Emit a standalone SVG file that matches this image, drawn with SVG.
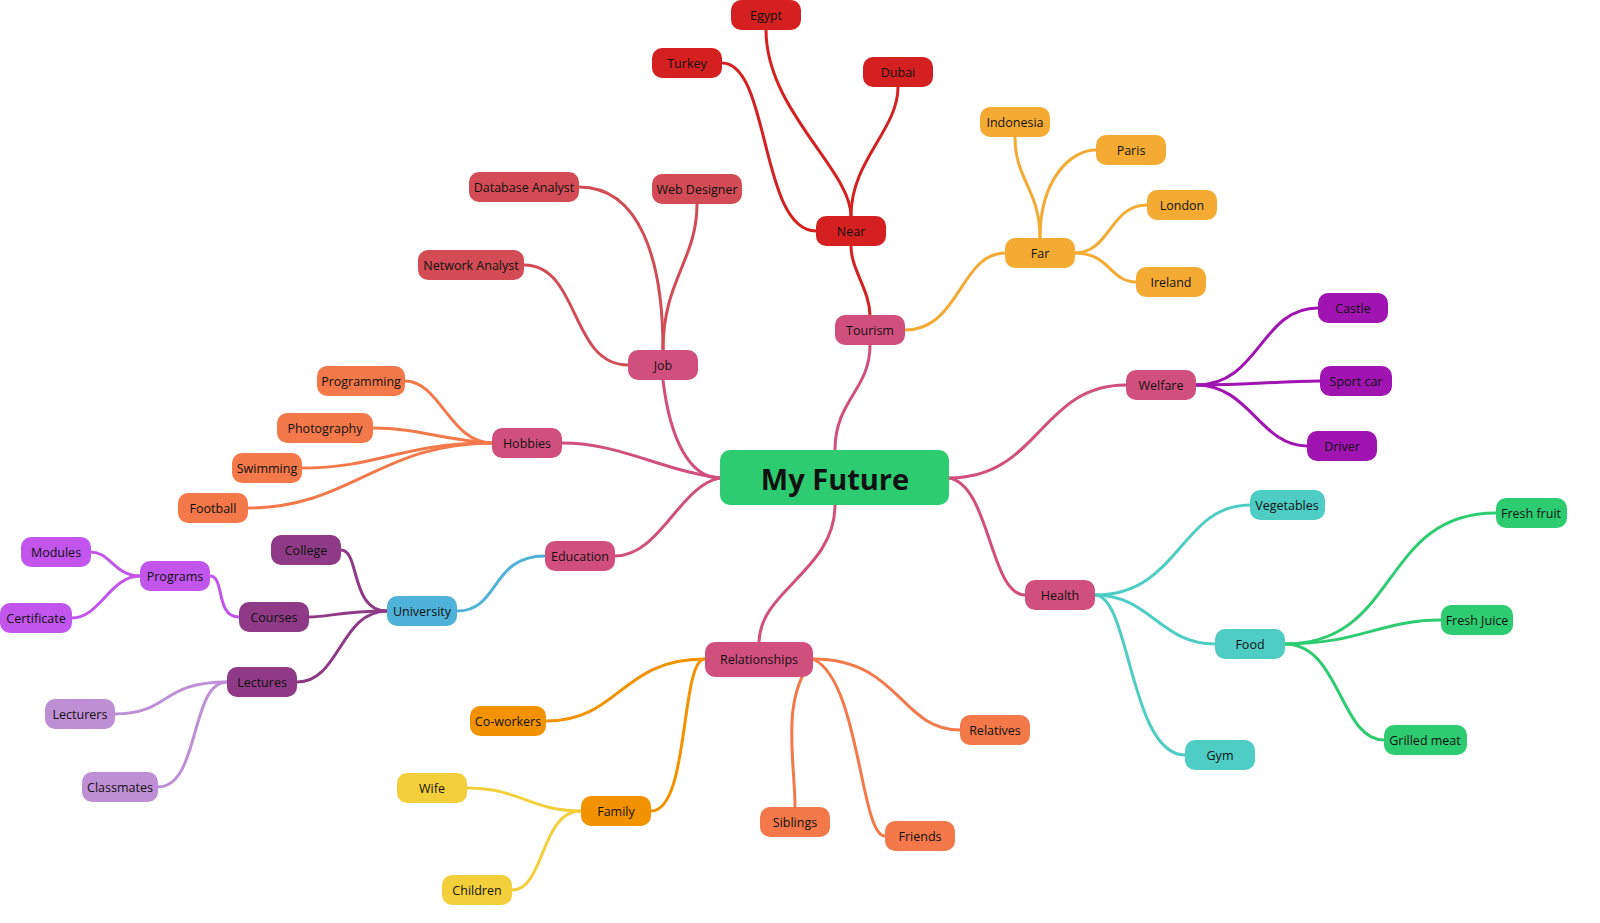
<svg xmlns="http://www.w3.org/2000/svg" width="1600" height="923" viewBox="0 0 1600 923">
<style>
text{font-family:"Open Sans","Noto Sans",sans-serif;font-size:12.5px;fill:#111;text-anchor:middle;dominant-baseline:central}
.c path{fill:none;stroke-width:3;stroke-linecap:round}
.r{font-size:29px;font-weight:bold}
</style>
<rect width="1600" height="923" fill="#fff"/>
<g class="c">
<g stroke="#d14f7d">
<path d="M720 478 C690 478,670 440,663 380"/>
<path d="M720 478 C660 470,620 443,562 443"/>
<path d="M720 478 C680 485,660 556,615 556"/>
<path d="M835 450 C835 400,870 390,870 345"/>
<path d="M835 505 C835 570,760 590,759 642"/>
<path d="M949 478 C1040 478,1040 385,1126 385"/>
<path d="M949 478 C990 485,990 595,1025 595"/>
</g>
<g stroke="#d42020">
<path d="M870 316 C870 290,851 270,851 246"/>
<path d="M851 216 C851 170,766 110,766 30"/>
<path d="M816 231 C760 231,770 63,722 63"/>
<path d="M851 216 C851 160,898 130,898 87"/>
</g>
<g stroke="#f4ab33">
<path d="M905 330 C960 330,960 253,1005 253"/>
<path d="M1040 238 C1040 190,1015 180,1015 137"/>
<path d="M1040 238 C1040 180,1070 150,1096 150"/>
<path d="M1075 253 C1110 253,1110 205,1147 205"/>
<path d="M1075 253 C1110 253,1110 282,1136 282"/>
</g>
<g stroke="#d24b55">
<path d="M663 350 C663 260,640 187,579 187"/>
<path d="M663 350 C663 280,697 260,697 204"/>
<path d="M628 365 C570 365,580 265,524 265"/>
</g>
<g stroke="#f3784a">
<path d="M492 443 C450 443,440 381,405 381"/>
<path d="M492 443 C440 440,420 428,373 428"/>
<path d="M492 443 C400 443,380 468,302 468"/>
<path d="M492 443 C380 443,350 508,248 508"/>
<path d="M813 659 C780 700,795 760,795 807"/>
<path d="M813 659 C860 680,860 836,885 836"/>
<path d="M813 659 C900 659,900 730,960 730"/>
</g>
<path stroke="#4fb3d9" d="M545 556 C490 556,500 611,457 611"/>
<g stroke="#8e3a86">
<path d="M387 611 C350 611,360 550,341 550"/>
<path d="M387 611 C340 611,330 617,309 617"/>
<path d="M387 611 C340 611,340 682,297 682"/>
</g>
<g stroke="#c155ec">
<path d="M239 617 C215 617,225 576,210 576"/>
<path d="M140 576 C115 576,110 552,91 552"/>
<path d="M140 576 C110 576,100 618,72 618"/>
</g>
<g stroke="#bf8fd6">
<path d="M227 682 C160 682,170 714,115 714"/>
<path d="M227 682 C190 682,200 787,158 787"/>
</g>
<g stroke="#f39200">
<path d="M705 659 C620 659,620 721,546 721"/>
<path d="M705 659 C680 659,690 811,651 811"/>
</g>
<g stroke="#f3cf3b">
<path d="M581 811 C530 811,520 788,467 788"/>
<path d="M581 811 C540 811,545 890,512 890"/>
</g>
<g stroke="#a014b2">
<path d="M1196 385 C1260 385,1260 308,1318 308"/>
<path d="M1196 385 C1250 385,1280 381,1320 381"/>
<path d="M1196 385 C1250 385,1260 446,1307 446"/>
</g>
<g stroke="#4ecdc4">
<path d="M1095 595 C1180 595,1180 505,1250 505"/>
<path d="M1095 595 C1150 595,1160 644,1215 644"/>
<path d="M1095 595 C1130 595,1130 755,1185 755"/>
</g>
<g stroke="#2ecc71">
<path d="M1285 644 C1400 644,1380 513,1496 513"/>
<path d="M1285 644 C1360 644,1380 620,1441 620"/>
<path d="M1285 644 C1340 644,1340 740,1384 740"/>
</g>
</g>
<g id="root"><rect x="720" y="450" width="229" height="55" rx="10" fill="#2ecc71"/><text class="r" x="835" y="478">My Future</text></g>
<g id="tourism"><rect x="835" y="315" width="70" height="30" rx="10" fill="#d14f7d"/><text x="870" y="330">Tourism</text></g>
<g id="job"><rect x="628" y="350" width="70" height="30" rx="10" fill="#d14f7d"/><text x="663" y="365">Job</text></g>
<g id="hobbies"><rect x="492" y="428" width="70" height="30" rx="10" fill="#d14f7d"/><text x="527" y="443">Hobbies</text></g>
<g id="education"><rect x="545" y="541" width="70" height="30" rx="10" fill="#d14f7d"/><text x="580" y="556">Education</text></g>
<g id="relationships"><rect x="705" y="642" width="108" height="35" rx="10" fill="#d14f7d"/><text x="759" y="659">Relationships</text></g>
<g id="welfare"><rect x="1126" y="370" width="70" height="30" rx="10" fill="#d14f7d"/><text x="1161" y="385">Welfare</text></g>
<g id="health"><rect x="1025" y="580" width="70" height="30" rx="10" fill="#d14f7d"/><text x="1060" y="595">Health</text></g>
<g id="near"><rect x="816" y="216" width="70" height="30" rx="10" fill="#d42020"/><text x="851" y="231">Near</text></g>
<g id="egypt"><rect x="731" y="0" width="70" height="30" rx="10" fill="#d42020"/><text x="766" y="15">Egypt</text></g>
<g id="turkey"><rect x="652" y="48" width="70" height="30" rx="10" fill="#d42020"/><text x="687" y="63">Turkey</text></g>
<g id="dubai"><rect x="863" y="57" width="70" height="30" rx="10" fill="#d42020"/><text x="898" y="72">Dubai</text></g>
<g id="far"><rect x="1005" y="238" width="70" height="30" rx="10" fill="#f4ab33"/><text x="1040" y="253">Far</text></g>
<g id="indonesia"><rect x="980" y="107" width="70" height="30" rx="10" fill="#f4ab33"/><text x="1015" y="122">Indonesia</text></g>
<g id="paris"><rect x="1096" y="135" width="70" height="30" rx="10" fill="#f4ab33"/><text x="1131" y="150">Paris</text></g>
<g id="london"><rect x="1147" y="190" width="70" height="30" rx="10" fill="#f4ab33"/><text x="1182" y="205">London</text></g>
<g id="ireland"><rect x="1136" y="267" width="70" height="30" rx="10" fill="#f4ab33"/><text x="1171" y="282">Ireland</text></g>
<g id="dba"><rect x="469" y="172" width="110" height="30" rx="10" fill="#d24b55"/><text x="524" y="187">Database Analyst</text></g>
<g id="webd"><rect x="652" y="174" width="90" height="30" rx="10" fill="#d24b55"/><text x="697" y="189">Web Designer</text></g>
<g id="neta"><rect x="418" y="250" width="106" height="30" rx="10" fill="#d24b55"/><text x="471" y="265">Network Analyst</text></g>
<g id="programming"><rect x="317" y="366" width="88" height="30" rx="10" fill="#f3784a"/><text x="361" y="381">Programming</text></g>
<g id="photography"><rect x="277" y="413" width="96" height="30" rx="10" fill="#f3784a"/><text x="325" y="428">Photography</text></g>
<g id="swimming"><rect x="232" y="453" width="70" height="30" rx="10" fill="#f3784a"/><text x="267" y="468">Swimming</text></g>
<g id="football"><rect x="178" y="493" width="70" height="30" rx="10" fill="#f3784a"/><text x="213" y="508">Football</text></g>
<g id="university"><rect x="387" y="596" width="70" height="30" rx="10" fill="#4fb3d9"/><text x="422" y="611">University</text></g>
<g id="college"><rect x="271" y="535" width="70" height="30" rx="10" fill="#8e3a86"/><text x="306" y="550">College</text></g>
<g id="courses"><rect x="239" y="602" width="70" height="30" rx="10" fill="#8e3a86"/><text x="274" y="617">Courses</text></g>
<g id="lectures"><rect x="227" y="667" width="70" height="30" rx="10" fill="#8e3a86"/><text x="262" y="682">Lectures</text></g>
<g id="programs"><rect x="140" y="561" width="70" height="30" rx="10" fill="#c155ec"/><text x="175" y="576">Programs</text></g>
<g id="modules"><rect x="21" y="537" width="70" height="30" rx="10" fill="#c155ec"/><text x="56" y="552">Modules</text></g>
<g id="certificate"><rect x="0" y="603" width="72" height="30" rx="10" fill="#c155ec"/><text x="36" y="618">Certificate</text></g>
<g id="lecturers"><rect x="45" y="699" width="70" height="30" rx="10" fill="#bf8fd6"/><text x="80" y="714">Lecturers</text></g>
<g id="classmates"><rect x="82" y="772" width="76" height="30" rx="10" fill="#bf8fd6"/><text x="120" y="787">Classmates</text></g>
<g id="coworkers"><rect x="470" y="706" width="76" height="30" rx="10" fill="#f39200"/><text x="508" y="721">Co-workers</text></g>
<g id="family"><rect x="581" y="796" width="70" height="30" rx="10" fill="#f39200"/><text x="616" y="811">Family</text></g>
<g id="wife"><rect x="397" y="773" width="70" height="30" rx="10" fill="#f3cf3b"/><text x="432" y="788">Wife</text></g>
<g id="children"><rect x="442" y="875" width="70" height="30" rx="10" fill="#f3cf3b"/><text x="477" y="890">Children</text></g>
<g id="siblings"><rect x="760" y="807" width="70" height="30" rx="10" fill="#f3784a"/><text x="795" y="822">Siblings</text></g>
<g id="friends"><rect x="885" y="821" width="70" height="30" rx="10" fill="#f3784a"/><text x="920" y="836">Friends</text></g>
<g id="relatives"><rect x="960" y="715" width="70" height="30" rx="10" fill="#f3784a"/><text x="995" y="730">Relatives</text></g>
<g id="castle"><rect x="1318" y="293" width="70" height="30" rx="10" fill="#a014b2"/><text x="1353" y="308">Castle</text></g>
<g id="sportcar"><rect x="1320" y="366" width="72" height="30" rx="10" fill="#a014b2"/><text x="1356" y="381">Sport car</text></g>
<g id="driver"><rect x="1307" y="431" width="70" height="30" rx="10" fill="#a014b2"/><text x="1342" y="446">Driver</text></g>
<g id="vegetables"><rect x="1250" y="490" width="75" height="30" rx="10" fill="#4ecdc4"/><text x="1287" y="505">Vegetables</text></g>
<g id="food"><rect x="1215" y="629" width="70" height="30" rx="10" fill="#4ecdc4"/><text x="1250" y="644">Food</text></g>
<g id="gym"><rect x="1185" y="740" width="70" height="30" rx="10" fill="#4ecdc4"/><text x="1220" y="755">Gym</text></g>
<g id="freshfruit"><rect x="1496" y="498" width="71" height="30" rx="10" fill="#2ecc71"/><text x="1531" y="513">Fresh fruit</text></g>
<g id="freshjuice"><rect x="1441" y="605" width="72" height="30" rx="10" fill="#2ecc71"/><text x="1477" y="620">Fresh Juice</text></g>
<g id="grilledmeat"><rect x="1384" y="725" width="83" height="30" rx="10" fill="#2ecc71"/><text x="1425" y="740">Grilled meat</text></g>
</svg>
